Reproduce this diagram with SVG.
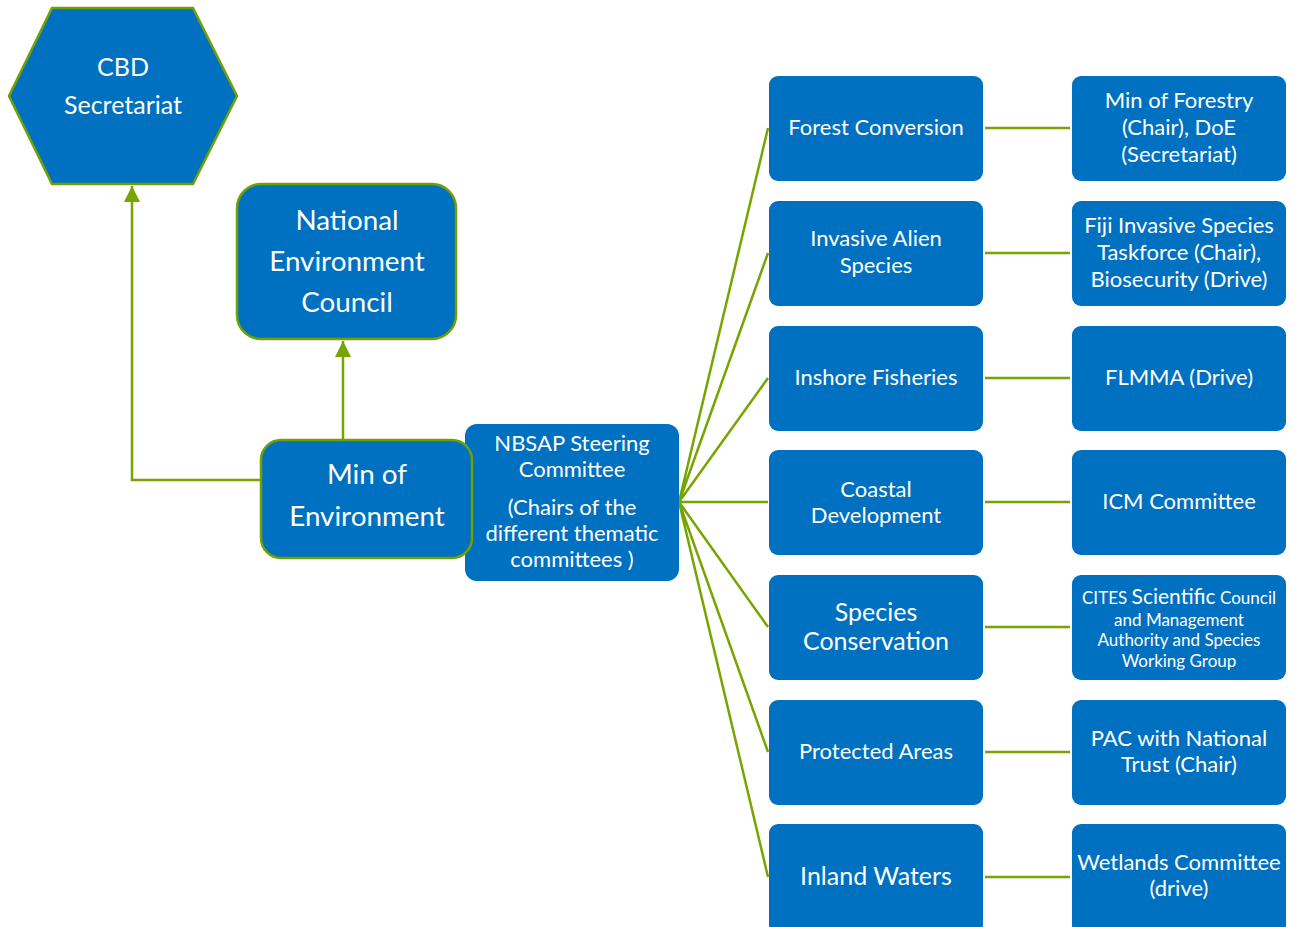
<svg xmlns="http://www.w3.org/2000/svg" width="1290" height="927" viewBox="0 0 1290 927">
<style>
.b{fill:#0070C0}
.bs{fill:#0070C0;stroke:#72A000;stroke-width:2.5}
.c{stroke:#76A500;stroke-width:2.5;fill:none}
text{font-family:Lato,"Open Sans",sans-serif;fill:#fff;text-anchor:middle}
.t20{font-size:22px}
.t23{font-size:25px}
.t26{font-size:27.8px}
.t16{font-size:17px}
</style>
<defs>
<marker id="a" viewBox="0 0 10 10" refX="10" refY="5" markerWidth="16" markerHeight="16" markerUnits="userSpaceOnUse" orient="auto"><path d="M0,0 L10,5 L0,10 Z" fill="#76A500"/></marker>
</defs>
<g id="connectors">
<path class="c" d="M261,480 H132 V186" marker-end="url(#a)"/>
<path class="c" d="M343,440 V341" marker-end="url(#a)"/>
<path class="c" d="M679,502 L768,128 M679,502 L768,253 M679,502 L768,378 M679,502 L768,502 M679,502 L768,627 M679,502 L768,752 M679,502 L768,877"/>
<path class="c" d="M985,128 H1070 M985,253 H1070 M985,378 H1070 M985,502 H1070 M985,627 H1070 M985,752 H1070 M985,877 H1070"/>
</g>
<g id="cbd">
<polygon class="bs" points="52,8 193,8 237,96 193,184 52,184 9,96"/>
<text class="t23" x="123" y="76">CBD</text>
<text class="t23" x="123" y="114">Secretariat</text>
</g>
<g id="nec">
<rect class="bs" x="237" y="184" width="219" height="155" rx="24"/>
<text class="t26" x="347" y="230">National</text>
<text class="t26" x="347" y="271">Environment</text>
<text class="t26" x="347" y="312">Council</text>
</g>
<g id="nbsap">
<rect class="b" x="465" y="424" width="214" height="157" rx="12"/>
<text class="t20" x="572" y="451">NBSAP Steering</text>
<text class="t20" x="572" y="477">Committee</text>
<text class="t20" x="572" y="515">(Chairs of the</text>
<text class="t20" x="572" y="541">different thematic</text>
<text class="t20" x="572" y="567">committees )</text>
</g>
<g id="moe">
<rect class="bs" x="261" y="440" width="211" height="118" rx="20"/>
<text class="t26" x="367" y="484">Min of</text>
<text class="t26" x="367" y="526">Environment</text>
</g>
<g id="forest">
<rect class="b" x="769" y="76" width="214" height="105" rx="9"/>
<text class="t20" x="876" y="135">Forest Conversion</text>
</g>
<g id="forest-r">
<rect class="b" x="1072" y="76" width="214" height="105" rx="9"/>
<text class="t20" x="1179" y="108">Min of Forestry</text>
<text class="t20" x="1179" y="135">(Chair), DoE</text>
<text class="t20" x="1179" y="162">(Secretariat)</text>
</g>
<g id="invasive">
<rect class="b" x="769" y="201" width="214" height="105" rx="9"/>
<text class="t20" x="876" y="246">Invasive Alien</text>
<text class="t20" x="876" y="273">Species</text>
</g>
<g id="invasive-r">
<rect class="b" x="1072" y="201" width="214" height="105" rx="9"/>
<text class="t20" x="1179" y="233">Fiji Invasive Species</text>
<text class="t20" x="1179" y="260">Taskforce (Chair),</text>
<text class="t20" x="1179" y="287">Biosecurity (Drive)</text>
</g>
<g id="inshore">
<rect class="b" x="769" y="326" width="214" height="105" rx="9"/>
<text class="t20" x="876" y="385">Inshore Fisheries</text>
</g>
<g id="inshore-r">
<rect class="b" x="1072" y="326" width="214" height="105" rx="9"/>
<text class="t20" x="1179" y="385">FLMMA (Drive)</text>
</g>
<g id="coastal">
<rect class="b" x="769" y="450" width="214" height="105" rx="9"/>
<text class="t20" x="876" y="497">Coastal</text>
<text class="t20" x="876" y="523">Development</text>
</g>
<g id="coastal-r">
<rect class="b" x="1072" y="450" width="214" height="105" rx="9"/>
<text class="t20" x="1179" y="509">ICM Committee</text>
</g>
<g id="species">
<rect class="b" x="769" y="575" width="214" height="105" rx="9"/>
<text class="t23" x="876" y="621">Species</text>
<text class="t23" x="876" y="650">Conservation</text>
</g>
<g id="species-r">
<rect class="b" x="1072" y="575" width="214" height="105" rx="9"/>
<text x="1179" y="604"><tspan class="t16">CITES </tspan><tspan style="font-size:21px">Scientific</tspan><tspan class="t16"> Council</tspan></text>
<text class="t16" x="1179" y="626">and Management</text>
<text class="t16" x="1179" y="646">Authority and  Species</text>
<text class="t16" x="1179" y="667">Working Group</text>
</g>
<g id="protected">
<rect class="b" x="769" y="700" width="214" height="105" rx="9"/>
<text class="t20" x="876" y="759">Protected Areas</text>
</g>
<g id="protected-r">
<rect class="b" x="1072" y="700" width="214" height="105" rx="9"/>
<text class="t20" x="1179" y="746">PAC with National</text>
<text class="t20" x="1179" y="772">Trust (Chair)</text>
</g>
<g id="inland">
<rect class="b" x="769" y="824" width="214" height="110" rx="9"/>
<text class="t23" x="876" y="885">Inland Waters</text>
</g>
<g id="inland-r">
<rect class="b" x="1072" y="824" width="214" height="110" rx="9"/>
<text class="t20" x="1179" y="870">Wetlands Committee</text>
<text class="t20" x="1179" y="896">(drive)</text>
</g>
</svg>
